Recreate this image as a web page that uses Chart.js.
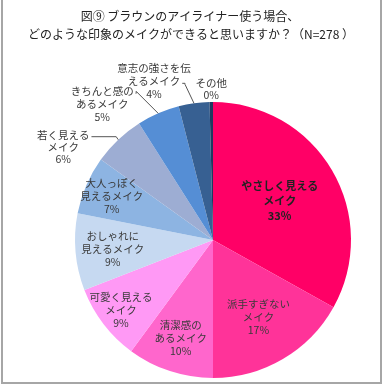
<!DOCTYPE html>
<html><head><meta charset="utf-8">
<script src="https://cdn.jsdelivr.net/npm/chart.js@4"></script>
<style>html,body{margin:0;padding:0;background:#fff;}#wrap{position:relative;width:384px;height:385px;}canvas{display:block}</style>
</head><body><div id="wrap"><canvas id="c" width="384" height="385"></canvas></div>
<script>
// ---- data ----
const titleLines = ['図⑨ ブラウンのアイライナー使う場合、', 'どのような印象のメイクができると思いますか？（N=278 ）'];
const categories = ['やさしく見えるメイク','派手すぎないメイク','清潔感のあるメイク','可愛く見えるメイク','おしゃれに見えるメイク','大人っぽく見えるメイク','若く見えるメイク','きちんと感のあるメイク','意志の強さを伝えるメイク','その他'];
const labelLines = [['やさしく見える','メイク'],['派手すぎない','メイク'],['清潔感の','あるメイク'],['可愛く見える','メイク'],['おしゃれに','見えるメイク'],['大人っぽく','見えるメイク'],['若く見える','メイク'],['きちんと感の','あるメイク'],['意志の強さを伝','えるメイク'],['その他']];
const values = [33.1, 16.9, 10.1, 9.0, 9.0, 6.8, 6.1, 5.0, 3.6, 0.4];
const percentLabels = ['33%','17%','10%','9%','9%','7%','6%','5%','4%','0%'];
const colors = ['#FF0066','#FF3399','#FF66CC','#FF99F5','#C6D9F1','#8DB4E2','#9DADD3','#558ED5','#376092','#1F3A5F'];

// ---- label layout (style, not data) ----
const FONT = '"Noto Sans CJK JP","Noto Sans",sans-serif';
const labelLayout = [
  {mode:'in', r:0.56, gap:15, bold:true, size:11},
  {mode:'in', r:0.65, gap:13},
  {mode:'in', r:0.75, gap:13},
  {mode:'in', r:0.84, gap:13},
  {mode:'in', r:0.73, gap:13},
  {mode:'in', r:0.80, gap:13},
  {mode:'out', dx:-55, dy:-5, gap:12, lead:0, elbow:[-2,null]},
  {mode:'out', dx:-56, dy:-22, gap:13, lead:0, elbow:[-22,-22]},
  {mode:'out', dx:-40, dy:-35, gap:13, lead:1, elbow:[-9,-19]},
  {mode:'out', dx:0, dy:-19, gap:12, lead:null}
];

const labelPlugin = {
  id:'sliceLabels',
  afterDatasetsDraw(chart){
    const ctx = chart.ctx;
    const meta = chart.getDatasetMeta(0);
    ctx.save();
    ctx.textAlign='center'; ctx.textBaseline='middle';
    meta.data.forEach((arc,i)=>{
      const p = arc.getProps(['x','y','startAngle','endAngle','outerRadius'], true);
      const mid = (p.startAngle+p.endAngle)/2;
      const L = labelLayout[i];
      const lines = labelLines[i].concat([percentLabels[i]]);
      const size = L.size || 10.5;
      ctx.font = (L.bold?'bold ':'') + size + 'px ' + FONT;
      ctx.fillStyle = L.bold ? '#222' : '#3a3a3a';
      if (L.mode==='in'){
        const cx = p.x + Math.cos(mid)*p.outerRadius*L.r;
        const cy = p.y + Math.sin(mid)*p.outerRadius*L.r;
        const y0 = cy - (lines.length-1)*L.gap/2;
        lines.forEach((t,k)=>ctx.fillText(t, cx, y0+k*L.gap));
      } else {
        const ex = p.x + Math.cos(mid)*p.outerRadius;
        const ey = p.y + Math.sin(mid)*p.outerRadius;
        const tx = ex + L.dx, ty = ey + L.dy;
        lines.forEach((t,k)=>ctx.fillText(t, tx, ty+k*L.gap));
        if (L.lead!==null){
          const w = ctx.measureText(lines[L.lead]).width;
          const sx = tx + w/2 + 2, sy = ty + L.lead*L.gap + 2;
          const bx = ex + L.elbow[0];
          const by = L.elbow[1]===null ? sy : ey + L.elbow[1];
          ctx.beginPath();
          ctx.strokeStyle='#555'; ctx.lineWidth=1;
          ctx.moveTo(sx, sy); ctx.lineTo(bx, sy); ctx.lineTo(bx, by); ctx.lineTo(ex, ey);
          ctx.stroke();
        }
      }
    });
    // title
    ctx.font = '12px ' + FONT;
    ctx.fillStyle = '#222';
    ctx.fillText(titleLines[0], 190, 16);
    ctx.fillText(titleLines[1], 191, 34);
    // frame
    ctx.strokeStyle='#a6a6a6'; ctx.lineWidth=2;
    ctx.beginPath();
    ctx.moveTo(2,0); ctx.lineTo(2,383); ctx.lineTo(381,383); ctx.lineTo(381,0);
    ctx.stroke();
    ctx.restore();
  }
};

new Chart(document.getElementById('c'), {
  type:'pie',
  data:{labels:categories, datasets:[{data:values, backgroundColor:colors, borderWidth:0}]},
  options:{
    responsive:false, animation:false, devicePixelRatio:1,
    layout:{padding:{top:102, bottom:7, left:75, right:33}},
    plugins:{legend:{display:false}, tooltip:{enabled:false}, title:{display:false}}
  },
  plugins:[labelPlugin]
});
</script></body></html>
